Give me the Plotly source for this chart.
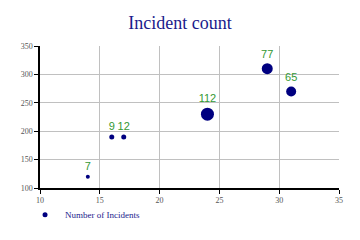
import plotly.graph_objects as go

x_vals = [14, 16, 17, 24, 29, 31]
y_vals = [120, 190, 190, 230, 310, 270]
incidents = [7, 9, 12, 112, 77, 65]
marker_px = [4, 5, 5, 13, 11, 10]
series_name = "Number of Incidents"

fig = go.Figure()
fig.add_trace(go.Scatter(
    x=x_vals, y=y_vals, mode="markers+text",
    name=series_name, showlegend=False,
    text=[str(v) for v in incidents],
    textposition="top center",
    textfont=dict(family="Liberation Sans, Arial, sans-serif", size=11, color="#339933"),
    marker=dict(size=marker_px, color="#000080", opacity=1, line=dict(width=0)),
))
# legend entry with a small marker
fig.add_trace(go.Scatter(
    x=[None], y=[None], mode="markers", name=series_name,
    marker=dict(size=5, color="#000080", opacity=1),
))

axis_common = dict(
    showgrid=True, gridcolor="#c0c0c0", gridwidth=1,
    showline=True, linecolor="black", linewidth=1.5,
    ticks="outside", ticklen=4, tickcolor="black",
    tickfont=dict(family="Liberation Serif, Times New Roman, serif", size=8, color="#555555"),
    zeroline=False,
)

fig.update_layout(
    width=360, height=240,
    margin=dict(l=40, r=21, t=46, b=52, autoexpand=False),
    paper_bgcolor="white", plot_bgcolor="white",
    title=dict(text="Incident count", x=0.5, xanchor="center", y=0.905, yanchor="middle",
               font=dict(family="Liberation Serif, Times New Roman, serif", size=18, color="#1a1a8c")),
    xaxis=dict(range=[10, 35], dtick=5, **axis_common),
    yaxis=dict(range=[100, 350], dtick=50, **axis_common),
    showlegend=True,
    legend=dict(orientation="h", x=-0.05, xanchor="left", yref="container", y=0.105, yanchor="middle",
                font=dict(family="Liberation Serif, Times New Roman, serif", size=9, color="#1a1a8c"),
                bgcolor="rgba(0,0,0,0)"),
)

fig.write_html("out.html")
